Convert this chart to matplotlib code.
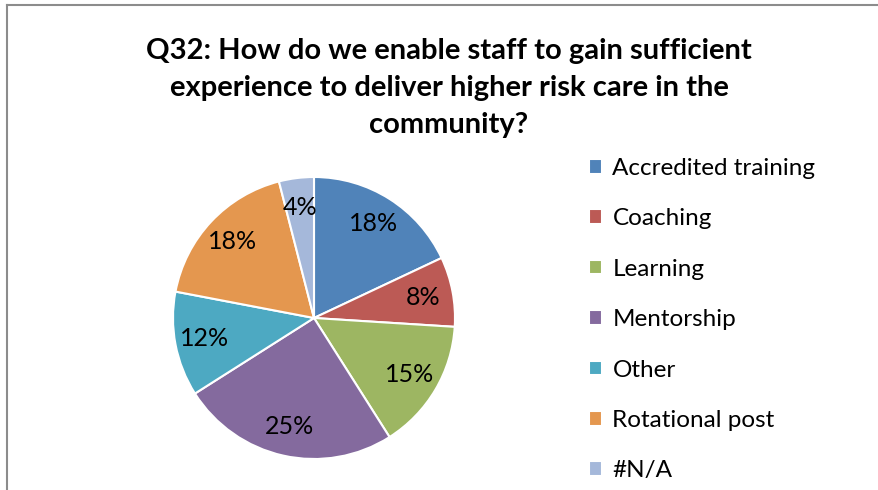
"""Q32 pie chart: how staff gain experience for higher risk community care."""

import matplotlib.pyplot as plt
from matplotlib.lines import Line2D

plt.switch_backend("Agg")

LABELS = ["Accredited training", "Coaching", "Learning", "Mentorship",
          "Other", "Rotational post", "#N/A"]
SHARES = [18, 8, 15, 25, 12, 18, 4]
COLORS = ["#5083B9", "#BC5A55", "#9DB662", "#846A9E",
          "#4DA9C2", "#E4974F", "#A5B8DA"]
TITLE = ("Q32: How do we enable staff to gain sufficient\n"
         "experience to deliver higher risk care in the\n"
         "community?")

W, H = 879, 490
plt.rcParams["font.family"] = ["Lato", "DejaVu Sans"]

fig = plt.figure(figsize=(W / 100, H / 100), dpi=100)

# pie centre (314, 318) px from top-left, radius 141 px
cx, cy, r = 314, H - 318, 141
ax = fig.add_axes([(cx - r) / W, (cy - r) / H, 2 * r / W, 2 * r / H])
wedges, _, autotexts = ax.pie(
    SHARES,
    colors=COLORS,
    startangle=90,
    counterclock=False,
    autopct=lambda p: f"{p:.0f}%",
    pctdistance=0.79,
    wedgeprops={"edgecolor": "white", "linewidth": 1.5},
    textprops={"fontsize": 18, "color": "black"},
)
ax.set_xlim(-1, 1)
ax.set_ylim(-1, 1)
ax.set_aspect("equal")

fig.text(449 / W, 1 - 88 / H, TITLE, ha="center", va="center",
         fontsize=21, fontweight="bold", linespacing=1.52)

fig.legend(
    wedges, LABELS,
    loc="upper left",
    bbox_to_anchor=(567 / W, 1 - 136 / H),
    frameon=False,
    fontsize=17.5,
    handlelength=0.55,
    handleheight=0.55,
    handletextpad=0.42,
    labelspacing=1.21,
)

# frame of the original chart area (top and left edges only are visible)
fig.add_artist(Line2D([7 / W, 7 / W], [0, 1 - 5 / H], transform=fig.transFigure,
                      color="#8C8C8C", linewidth=1.5))
fig.add_artist(Line2D([7 / W, 1], [1 - 5 / H, 1 - 5 / H], transform=fig.transFigure,
                      color="#8C8C8C", linewidth=1.5))

fig.savefig("out.png", dpi=100)
